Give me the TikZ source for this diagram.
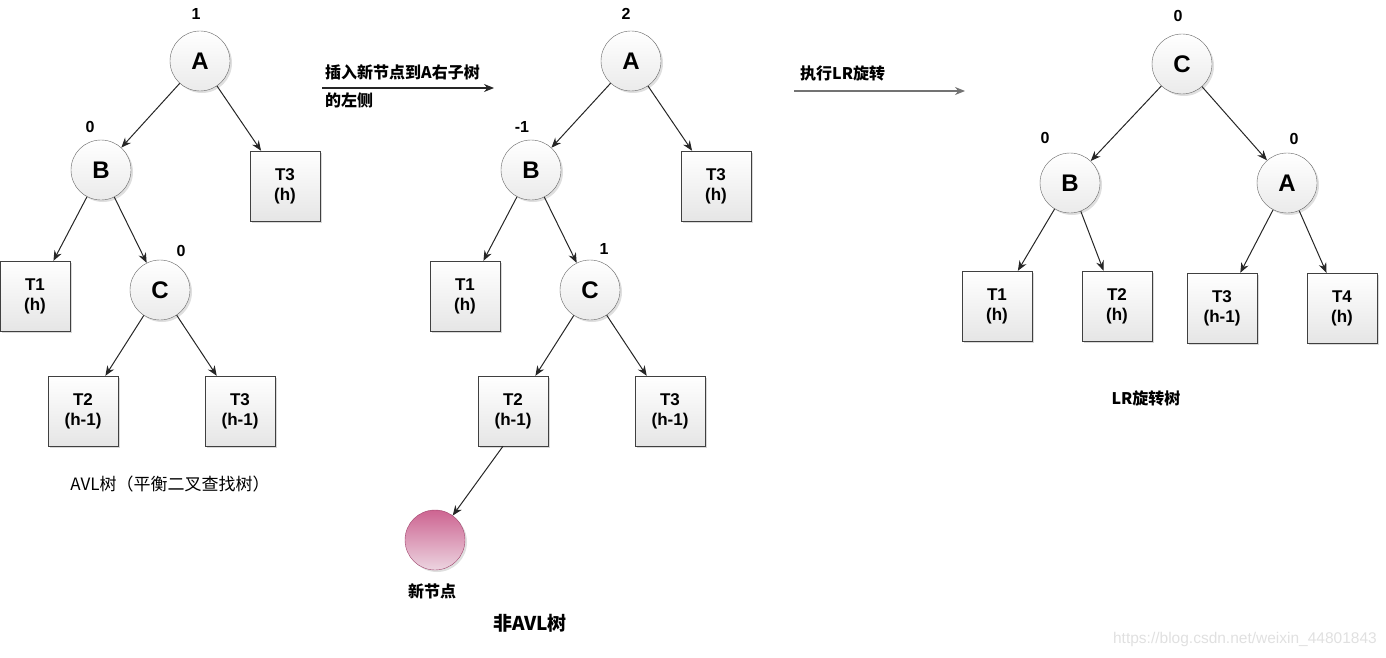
\documentclass[tikz,border=0pt]{standalone}
\usepackage{fontspec}
\setmainfont{Liberation Sans}
\newfontfamily\cjk{Noto Sans CJK SC}
\usetikzlibrary{shadows,arrows.meta}

\definecolor{pinktop}{RGB}{205,100,145}
\definecolor{pinkbot}{RGB}{236,212,224}
\definecolor{pinkline}{RGB}{160,70,110}

\tikzset{
  avl/.style={circle, draw=black!60, minimum size=60pt, inner sep=0pt,
    top color=white, bottom color=black!8,
    drop shadow={opacity=0.25, shadow xshift=2pt, shadow yshift=-2pt},
    font=\fontsize{24}{24}\selectfont\bfseries},
  sub/.style={rectangle, draw=black!75, minimum size=70pt, inner sep=0pt, align=center,
    top color=white, bottom color=black!10,
    drop shadow={opacity=0.3, shadow xshift=2pt, shadow yshift=-2pt},
    font=\fontsize{17}{20}\selectfont\bfseries},
  bal/.style={font=\fontsize{16}{16}\selectfont\bfseries},
  note/.style={anchor=west, inner sep=0pt, font=\cjk\fontsize{16}{16}\selectfont\bfseries},
  link/.style={-{Stealth[length=10pt,width=8pt]}, line width=1pt, black!85}
}

\begin{document}
\begin{tikzpicture}[x=1pt, y=-1pt]
  \useasboundingbox (0,0) rectangle (1386,658);

  % AVL tree
  \node[avl] (a1) at (200,61) {A};
  \node[avl] (b1) at (101,170) {B};
  \node[avl] (c1) at (160,290) {C};
  \node[sub] (t31) at (285,186) {T3\\(h)};
  \node[sub] (t11) at (35,296) {T1\\(h)};
  \node[sub] (t21) at (83,411) {T2\\(h-1)};
  \node[sub] (t3b1) at (240,411) {T3\\(h-1)};
  \node[bal] (ba1) at (196,14) {1};
  \node[bal] (bb1) at (90,127) {0};
  \node[bal] (bc1) at (181,251) {0};
  \node[font=\cjk\fontsize{17}{17}\selectfont] (cap1) at (170,484) {AVL树（平衡二叉查找树）};

  \draw[link] (a1) -- (b1);
  \draw[link] (a1) -- (t31);
  \draw[link] (b1) -- (t11);
  \draw[link] (b1) -- (c1);
  \draw[link] (c1) -- (t21);
  \draw[link] (c1) -- (t3b1);

  % insert arrow
  \coordinate (ins0) at (322,88);
  \coordinate (ins1) at (494,88);
  \draw[link, line width=1.2pt] (ins0) -- (ins1);
  \node[note] (insl) at (325,72) {插入新节点到A右子树};
  \node[note] (insl2) at (325,100) {的左侧};

  % tree after insertion
  \node[avl] (a2) at (631,61) {A};
  \node[avl] (b2) at (531,170) {B};
  \node[avl] (c2) at (590,290) {C};
  \node[sub] (t32) at (716,186) {T3\\(h)};
  \node[sub] (t12) at (465,296) {T1\\(h)};
  \node[sub] (t22) at (513,411) {T2\\(h-1)};
  \node[sub] (t3b2) at (670,411) {T3\\(h-1)};
  \node[circle, minimum size=60pt, draw=pinkline, top color=pinktop, bottom color=pinkbot,
    drop shadow={opacity=0.25, shadow xshift=2pt, shadow yshift=-2pt}] (new) at (435,540) {};
  \node[bal] (ba2) at (626,14) {2};
  \node[bal] (bb2) at (522,127) {-1};
  \node[bal] (bc2) at (604,249) {1};
  \node[note, anchor=center] (newl) at (432,591) {新节点};
  \node[font=\cjk\fontsize{19}{19}\selectfont\bfseries] (cap2) at (530,623) {非AVL树};

  \draw[link] (a2) -- (b2);
  \draw[link] (a2) -- (t32);
  \draw[link] (b2) -- (t12);
  \draw[link] (b2) -- (c2);
  \draw[link] (c2) -- (t22);
  \draw[link] (c2) -- (t3b2);
  \draw[link] ([xshift=-10pt]t22.south) -- (new);

  % LR rotation arrow
  \coordinate (rot0) at (794,91);
  \coordinate (rot1) at (965,91);
  \draw[-{Stealth[length=10pt,width=8pt]}, line width=1.8pt, black!55] (rot0) -- (rot1);
  \node[note] (rotl) at (800,73) {执行LR旋转};

  % rotated tree
  \node[avl] (c3) at (1182,64) {C};
  \node[avl] (b3) at (1070,183) {B};
  \node[avl] (a3) at (1287,183) {A};
  \node[sub] (t13) at (997,306) {T1\\(h)};
  \node[sub] (t23) at (1117,306) {T2\\(h)};
  \node[sub] (t33) at (1222,308) {T3\\(h-1)};
  \node[sub] (t43) at (1342,308) {T4\\(h)};
  \node[bal] (bc3) at (1178,16) {0};
  \node[bal] (bb3) at (1045,138) {0};
  \node[bal] (ba3) at (1294,139) {0};
  \node[note, anchor=center] (cap3) at (1146,398) {LR旋转树};

  \draw[link] (c3) -- (b3);
  \draw[link] (c3) -- (a3);
  \draw[link] (b3) -- (t13);
  \draw[link] (b3) -- (t23);
  \draw[link] (a3) -- (t33);
  \draw[link] (a3) -- (t43);

  \node[text=black!12, anchor=east, inner sep=0pt, font=\fontsize{15.5}{15.5}\selectfont] (mark) at (1377,639) {https://blog.csdn.net/weixin\_44801843};
\end{tikzpicture}
\end{document}
